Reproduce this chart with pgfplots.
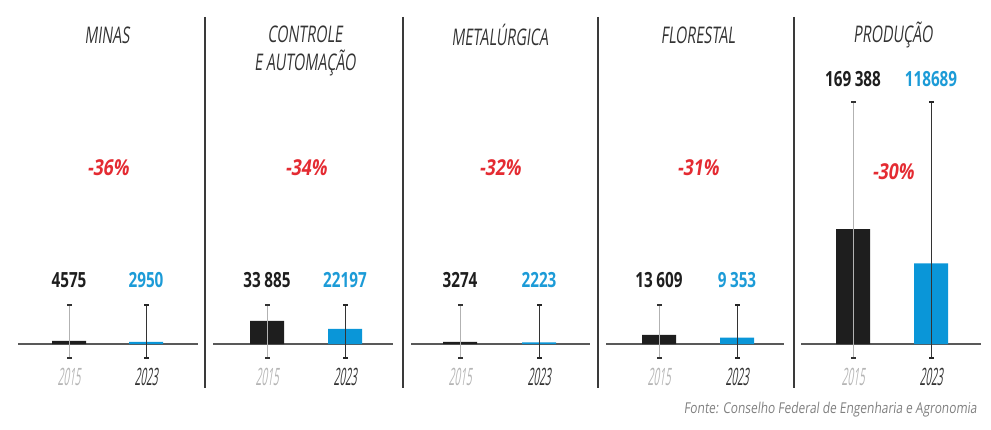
\documentclass[border=0pt]{standalone}
\usepackage{pgfplots}
\pgfplotsset{compat=1.18}
\usepackage{fontspec}
\setmainfont{Open Sans}
\newfontfamily\titlef{Open Sans}[FakeStretch=0.63,FakeSlant=0.12]
\newfontfamily\valf{Open Sans}[FakeStretch=0.73]
\newfontfamily\pctf{Open Sans}[FakeStretch=0.8,FakeSlant=0.15]
\newfontfamily\yearf{Open Sans}[FakeStretch=0.42,FakeSlant=0.15]
\newfontfamily\srcf{Open Sans}[FakeStretch=0.8,FakeSlant=0.12]
\definecolor{barblk}{HTML}{1E1E1E}
\definecolor{barblu}{HTML}{0A96D8}
\definecolor{lblblu}{HTML}{1C9BD7}
\definecolor{pctred}{HTML}{E42B32}
\definecolor{sepc}{HTML}{3A3A3A}
\definecolor{yr15}{HTML}{B5B5B5}
\definecolor{yr23}{HTML}{333333}
\begin{document}
\begin{tikzpicture}[x=1bp,y=1bp]
\useasboundingbox (0,0) rectangle (991,429);
\begin{axis}[at={(0,0)}, anchor=south west, width=991bp, height=429bp, scale only axis,
  xmin=0, xmax=991, ymin=-125205, ymax=506712, hide axis, clip=false,
  unbounded coords=jump]
% baselines
\draw[line width=1.2bp, black!65] (axis cs:18,0) -- (axis cs:198,0);
\draw[line width=1.2bp, black!65] (axis cs:213,0) -- (axis cs:393,0);
\draw[line width=1.2bp, black!65] (axis cs:411,0) -- (axis cs:590,0);
\draw[line width=1.2bp, black!65] (axis cs:606,0) -- (axis cs:784,0);
\draw[line width=1.2bp, black!65] (axis cs:801,0) -- (axis cs:981,0);
% bars 2015
\addplot[ybar, bar width=34, bar shift=0pt, fill=barblk, draw=none] coordinates {
 (69,4575) (267,33885) (460,3274) (659,13609) (853,169388)};
% bars 2023
\addplot[ybar, bar width=34, bar shift=0pt, fill=barblu, draw=none] coordinates {
 (146,2950) (345,22197) (539,2223) (737,9353) (931,118689)};
% stems 2015
\addplot[draw=black!30, line width=1bp, mark=-, mark size=2.5bp,
  mark options={draw=black!80, line width=2bp}] coordinates {
 (69,-20622) (69,57447) (nan,nan)
 (267,-20622) (267,57447) (nan,nan)
 (460,-20622) (460,57447) (nan,nan)
 (659,-20622) (659,57447) (nan,nan)
 (853,-20622) (853,356466)};
% stems 2023
\addplot[draw=black!80, line width=1bp, mark=-, mark size=2.5bp,
  mark options={draw=black!85, line width=2bp}] coordinates {
 (146,-20622) (146,57447) (nan,nan)
 (345,-20622) (345,57447) (nan,nan)
 (539,-20622) (539,57447) (nan,nan)
 (737,-20622) (737,57447) (nan,nan)
 (931,-20622) (931,356466)};
\end{axis}
% separators
\foreach \sx in {205,403,598,794}{\draw[line width=2bp, sepc] (\sx,412) -- (\sx,41);}
% titles
\begin{scope}[every node/.style={font=\titlef\fontsize{23}{25}\selectfont, text=black!80, inner sep=0pt}]
\node at (107,394) {MINAS};
\node at (305,395) {CONTROLE};
\node at (305,366) {E AUTOMAÇÃO};
\node at (500,394) {METALÚRGICA};
\node at (698,394) {FLORESTAL};
\node at (893,394) {PRODUÇÃO};
\end{scope}
% values
\begin{scope}[every node/.style={font=\valf\bfseries\fontsize{21}{23}\selectfont, inner sep=0pt}]
\node[text=barblk] at (69,149) {4575};
\node[text=lblblu] at (146,149) {2950};
\node[text=barblk] at (267,149) {33\,885};
\node[text=lblblu] at (345,149) {22197};
\node[text=barblk] at (460,149) {3274};
\node[text=lblblu] at (539,149) {2223};
\node[text=barblk] at (659,149) {13\,609};
\node[text=lblblu] at (737,149) {9\,353};
\node[text=barblk] at (853,350) {169\,388};
\node[text=lblblu] at (931,350) {118689};
\end{scope}
% percents
\begin{scope}[every node/.style={font=\pctf\bfseries\fontsize{22}{24}\selectfont, text=pctred, inner sep=0pt}]
\node at (108,261) {-36\%};
\node at (306,261) {-34\%};
\node at (500,261) {-32\%};
\node at (698,261) {-31\%};
\node at (893,257) {-30\%};
\end{scope}
% years
\begin{scope}[every node/.style={font=\yearf\fontsize{24}{26}\selectfont, inner sep=0pt}]
\foreach \yx in {69,267,460,659,853}{\node[text=yr15] at (\yx,52) {2015};}
\foreach \yx in {146,345,539,737,931}{\node[text=yr23] at (\yx,52) {2023};}
\end{scope}
% source
\node[anchor=east, inner sep=0pt, font=\srcf\fontsize{15}{17}\selectfont, text=black!50] at (977,19) {Fonte: Conselho Federal de Engenharia e Agronomia};
\end{tikzpicture}
\end{document}
